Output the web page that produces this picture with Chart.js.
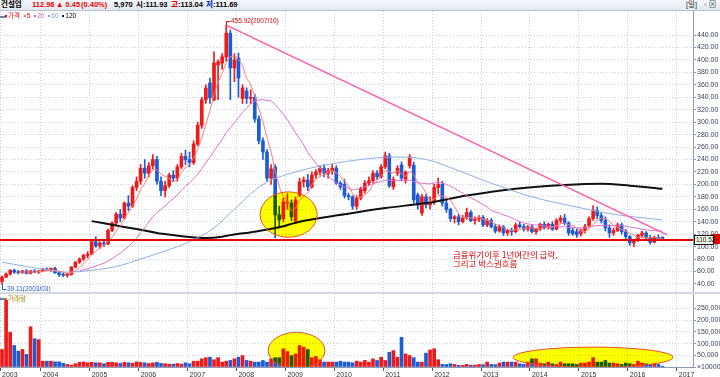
<!DOCTYPE html>
<html>
<head>
<meta charset="utf-8">
<script src="https://cdn.jsdelivr.net/npm/chart.js@4.4.1/dist/chart.umd.min.js"></script>
<style>
  body { margin:0; width:720px; height:377px; overflow:hidden; background:#fff; position:relative;
         font-family:"Liberation Sans","Noto Sans CJK KR",sans-serif; }
  .abs { position:absolute; white-space:nowrap; }
  #hdr { left:0; top:0; width:720px; height:10px; background:linear-gradient(#f6f8fb,#e2e8f0); border-bottom:1px solid #b7c2d2; }
  #hdr span { position:absolute; top:1px; font-size:7.5px; font-weight:bold; line-height:8px; }
  .leg { font-size:6.5px; line-height:7px; }
  .sq { display:inline-block; width:2px; height:2px; margin-right:1px; vertical-align:middle; }
</style>
</head>
<body>
<div id="hdr" class="abs">
  <span style="left:1px;color:#000">건설업</span>
  <span style="left:32px;color:#e00">112.96</span>
  <span style="left:56px;color:#e00">▲ 0.45</span>
  <span style="left:81px;color:#e00">(0.40%)</span>
  <span style="left:114px;color:#000">5,970</span>
  <span style="left:136px;color:#000">시:111.93</span>
  <span style="left:171px;color:#000"><b style="color:#e00">고</b>:113.04</span>
  <span style="left:206px;color:#000"><b style="color:#1040d0">저</b>:111.69</span>
  <span style="left:686px;color:#333;font-weight:normal">[일]</span>
  <span style="left:704px;color:#456;font-weight:normal">▫ ⊠</span>
</div>
<canvas id="priceChart" width="720" height="281" style="position:absolute;left:0;top:11px"></canvas>
<div class="abs" style="left:0;top:292px;width:720px;height:2px;background:#d3dae5"></div>
<canvas id="volChart" width="720" height="83" style="position:absolute;left:0;top:294px"></canvas>

<div class="abs leg" style="left:0;top:12px;color:#6a7fa8">▬</div>
<div class="abs leg" style="left:5px;top:12px">
  <span style="color:#e00"><i class="sq" style="background:#e00"></i>가격</span>
  <span style="color:#e00;margin-left:2px"><i class="sq" style="background:#ff6b6b"></i>5</span>
  <span style="color:#d25cc0;margin-left:2px"><i class="sq" style="background:#d25cc0"></i>20</span>
  <span style="color:#7fa4dd;margin-left:2px"><i class="sq" style="background:#7fa4dd"></i>60</span>
  <span style="color:#000;margin-left:2px"><i class="sq" style="background:#000"></i>120</span>
</div>
<div class="abs leg" style="left:0;top:294px;color:#6a7fa8">▬</div>
<div class="abs leg" style="left:5px;top:295px;color:#a48a1c"><i class="sq" style="background:#a48a1c"></i>거래량</div>

<script>
// monthly candles, 2003/03 .. 2016/09
const startYear = 2003, startMonth = 3, categoryCount = 170;

const opens = [
  44, 51, 56, 62, 59, 58, 61, 57, 61, 59,                       // 2003
  61, 64, 62, 65, 58, 55, 54, 55, 67, 75, 80, 86,               // 2004
  88, 108, 101, 106, 104, 126, 138, 152, 146, 170, 165, 195,    // 2005
  205, 226, 218, 230, 240, 205, 190, 198, 215, 210, 228, 245,   // 2006
  240, 235, 265, 295, 336, 363, 336, 392, 395, 405, 443, 387,   // 2007
  403, 338, 350, 338, 340, 305, 270, 252, 210, 228, 151, 145,   // 2008
  170, 170, 142, 183, 204, 207, 196, 215, 220, 226, 218, 222,   // 2009
  226, 202, 200, 182, 180, 165, 178, 190, 202, 206, 218, 212,   // 2010
  228, 246, 196, 218, 231, 208, 230, 231, 183, 154, 180, 167,   // 2011
  172, 195, 200, 170, 160, 145, 148, 140, 146, 155, 142, 144,   // 2012
  147, 135, 142, 132, 125, 132, 122, 126, 124, 135, 132, 128,   // 2013
  132, 124, 128, 136, 130, 136, 128, 142, 146, 138, 126, 124,   // 2014
  121, 126, 134, 145, 158, 150, 142, 130, 122, 126, 135, 124,   // 2015
  116, 106, 110, 118, 122, 114, 107, 115, 115                   // 2016
];
const highs = [
  53, 58, 63, 64, 62, 62, 63, 62, 63, 62,
  65, 66, 66, 67, 60, 58, 57, 68, 76, 82, 88, 92,
  112, 116, 108, 110, 128, 140, 155, 160, 172, 182, 198, 212,
  232, 240, 235, 248, 245, 212, 205, 218, 222, 232, 250, 255,
  252, 270, 300, 340, 360, 371, 413, 400, 410, 455.92, 448, 410,
  411, 360, 355, 352, 345, 310, 275, 256, 232, 232, 165, 178,
  185, 175, 180, 210, 212, 216, 220, 224, 230, 232, 226, 232,
  230, 205, 208, 186, 182, 182, 196, 206, 212, 222, 222, 232,
  252, 250, 212, 230, 236, 222, 248, 236, 186, 184, 184, 180,
  200, 210, 205, 175, 162, 150, 152, 150, 162, 158, 148, 150,
  150, 145, 145, 136, 135, 134, 128, 130, 138, 140, 136, 134,
  135, 130, 138, 140, 138, 140, 145, 150, 152, 140, 130, 128,
  128, 136, 148, 166, 164, 155, 148, 135, 130, 138, 138, 128,
  118, 112, 120, 125, 124, 118, 117, 119, 116
];
const lows = [
  39.11, 50, 54, 57, 56, 57, 56, 56, 58, 57,
  60, 61, 60, 57, 52, 52, 51, 54, 66, 73, 78, 82,
  87, 99, 97, 100, 103, 124, 135, 140, 144, 158, 163, 190,
  200, 210, 212, 225, 200, 182, 180, 195, 205, 205, 225, 232,
  228, 232, 262, 290, 330, 330, 334, 336, 385, 398, 336, 365,
  340, 330, 330, 330, 300, 265, 240, 205, 200, 114, 130, 140,
  160, 142, 138, 180, 196, 190, 194, 210, 215, 212, 210, 216,
  200, 192, 178, 175, 160, 160, 175, 186, 198, 202, 208, 210,
  225, 195, 192, 214, 206, 202, 226, 170, 160, 150, 162, 160,
  168, 185, 165, 155, 140, 138, 135, 138, 144, 140, 136, 140,
  132, 132, 130, 122, 123, 118, 118, 118, 122, 130, 125, 125,
  122, 120, 126, 128, 128, 126, 127, 138, 135, 118, 118, 115,
  117, 122, 132, 142, 145, 138, 125, 115, 118, 124, 120, 112,
  102, 100, 108, 115, 110, 104, 106, 110, 110
];
const closes = [
  51, 56, 62, 59, 58, 61, 57, 61, 59, 61,
  64, 62, 65, 58, 55, 54, 55, 67, 75, 80, 86, 88,
  108, 101, 106, 104, 126, 138, 152, 146, 170, 165, 195, 205,
  226, 218, 230, 240, 205, 190, 198, 215, 210, 228, 245, 240,
  235, 265, 295, 336, 355, 339, 395, 397, 405, 443, 387, 400,
  371, 355, 338, 340, 305, 270, 252, 210, 225, 151, 143, 172,
  172, 148, 175, 204, 207, 196, 215, 220, 226, 218, 222, 226,
  202, 196, 182, 180, 165, 178, 192, 202, 206, 218, 212, 228,
  246, 198, 208, 226, 210, 220, 244, 175, 167, 180, 167, 172,
  195, 200, 170, 160, 145, 148, 140, 146, 155, 142, 144, 147,
  135, 142, 132, 125, 132, 122, 126, 124, 135, 132, 128, 132,
  124, 128, 136, 130, 136, 128, 142, 146, 138, 122, 121, 119,
  126, 132, 145, 158, 150, 142, 130, 122, 126, 135, 124, 116,
  106, 110, 118, 122, 114, 107, 115, 113, 112.96
];
const volumes = [
  75000, 285000, 148000, 92000, 68000, 75000, 54000, 172000, 121000, 117000,
  25000, 25000, 25000, 22000, 22000, 16000, 11000, 8000, 14000, 20000, 22000, 18000,
  20000, 18000, 18000, 14000, 20000, 20000, 18000, 15000, 20000, 18000, 16000, 22000,
  20000, 18000, 15000, 18000, 20000, 15000, 14000, 12000, 12000, 15000, 12000, 18000,
  14000, 25000, 25000, 35000, 40000, 42000, 31000, 40000, 21000, 25000, 28000, 35000,
  42000, 49000, 28000, 25000, 21000, 21000, 28000, 21000, 35000, 40000, 40000, 78000,
  66000, 49000, 56000, 92000, 85000, 75000, 40000, 45000, 31000, 21000, 21000, 21000,
  21000, 25000, 21000, 21000, 18000, 25000, 21000, 28000, 21000, 35000, 28000, 42000,
  28000, 63000, 70000, 42000, 127000, 56000, 49000, 40000, 21000, 21000, 59000, 73000,
  78000, 31000, 11000, 11000, 14000, 11000, 7000, 7000, 11000, 8000, 8000, 11000,
  10000, 21000, 11000, 10000, 17000, 21000, 21000, 21000, 21000, 14000, 11000, 21000,
  35000, 35000, 17000, 14000, 21000, 14000, 11000, 21000, 14000, 14000, 14000, 11000,
  17000, 17000, 21000, 40000, 21000, 21000, 28000, 17000, 17000, 14000, 11000, 17000,
  14000, 11000, 25000, 17000, 14000, 11000, 14000, 11000, 4000
];

// long averages (they reach back before 2003)
const ma60Points = [
  ['2003/03', 75], ['2003/09', 68], ['2004/03', 62], ['2004/07', 59], ['2005/01', 62],
  ['2005/07', 68], ['2006/01', 80], ['2006/07', 93], ['2007/01', 108], ['2007/07', 130],
  ['2007/11', 154], ['2008/07', 200], ['2009/03', 220], ['2009/11', 232], ['2010/07', 240],
  ['2011/03', 244], ['2011/11', 240], ['2012/07', 222], ['2013/03', 202], ['2014/01', 180],
  ['2014/11', 165], ['2015/09', 152], ['2016/09', 143]
];
const ma120Points = [
  ['2005/01', 141], ['2005/07', 134], ['2006/01', 127], ['2006/05', 122], ['2006/09', 118.5],
  ['2007/01', 115.5], ['2007/05', 114], ['2007/09', 116], ['2007/11', 118.5], ['2008/05', 124],
  ['2008/11', 131], ['2009/04', 140], ['2010/03', 152], ['2011/01', 162], ['2011/11', 170],
  ['2012/09', 182], ['2013/09', 193], ['2014/09', 199], ['2015/06', 201], ['2016/01', 198],
  ['2016/09', 193]
];

const priceTicks = [40, 60, 80, 100, 120, 140, 160, 180, 200, 220, 240, 260, 280, 300, 320, 340, 360, 380, 400, 420, 440];
const volumeTicks = [0, 50000, 100000, 150000, 200000, 250000];

const levelLine = 110.52;
const trendFrom = ['2007/10', 455.92];
const trendTo = [163.2, 119];
const peakMark = ['2007/10', 455.92, '455.92(2007/10)'];
const lowMark = ['2003/03', 39.11, '39.11(2003/03)'];
const noteLines = ['금융위기이후 1년여간의 급락,', '그리고 박스권흐름'];
const noteAt = [110.6, 93];

// ellipses in index / value units
const priceEllipse = { from: 63.3, to: 77.3, low: 115, high: 188 };
const volumeEllipses = [
  { from: 65.3, to: 79.2, low: -7000, high: 148000 },
  { from: 125.4, to: 164.6, low: -2000, high: 85000 }
];

// --- build labels
const months = [];
for (let k = 0; k < categoryCount; k++) {
  const m = startMonth - 1 + k;
  const yr = startYear + Math.floor(m / 12);
  months.push(yr + '/' + String((m % 12) + 1).padStart(2, '0'));
}
const isYearTick = (i) => i === 0 || (months[i] && months[i].endsWith('/01'));

function movingAverage(values, n) {
  return values.map((v, i) => {
    if (i < n - 1) return null;
    let s = 0;
    for (let j = i - n + 1; j <= i; j++) s += values[j];
    return s / n;
  });
}

const upColor = '#ee1a1a';
const downColor = '#1b5cd6';
const candleColors = closes.map((c, i) => (c >= opens[i] ? upColor : downColor));

Chart.defaults.font.family = '"Liberation Sans","Noto Sans CJK KR",sans-serif';
Chart.defaults.animation = false;

function drawEllipse(ctx, xs, ys, e) {
  const x0 = xs.getPixelForValue(e.from), x1 = xs.getPixelForValue(e.to);
  const y0 = ys.getPixelForValue(e.high), y1 = ys.getPixelForValue(e.low);
  ctx.save();
  ctx.beginPath();
  ctx.ellipse((x0 + x1) / 2, (y0 + y1) / 2, (x1 - x0) / 2, (y1 - y0) / 2, 0, 0, Math.PI * 2);
  ctx.globalCompositeOperation = 'multiply';
  ctx.fillStyle = '#ffff00';
  ctx.fill();
  ctx.globalCompositeOperation = 'source-over';
  ctx.strokeStyle = '#e4502c';
  ctx.lineWidth = 1;
  ctx.stroke();
  ctx.restore();
}

const priceOverlay = {
  id: 'priceOverlay',
  afterDatasetsDraw(chart) {
    const { ctx, chartArea: a, scales: { x, y } } = chart;
    ctx.save();
    ctx.beginPath();
    ctx.rect(a.left, a.top, a.right - a.left, a.bottom - a.top);
    ctx.clip();

    // trend line from the 2007 top
    ctx.strokeStyle = '#ff5aa6';
    ctx.lineWidth = 1.5;
    ctx.beginPath();
    ctx.moveTo(x.getPixelForValue(trendFrom[0]), y.getPixelForValue(trendFrom[1]));
    ctx.lineTo(x.getPixelForValue(trendTo[0]), y.getPixelForValue(trendTo[1]));
    ctx.stroke();

    drawEllipse(ctx, x, y, priceEllipse);

    // horizontal level
    const ly = y.getPixelForValue(levelLine);
    ctx.strokeStyle = '#e60000';
    ctx.lineWidth = 2;
    ctx.beginPath();
    ctx.moveTo(a.left, ly);
    ctx.lineTo(a.right, ly);
    ctx.stroke();

    // peak / low marks
    ctx.lineWidth = 1;
    ctx.font = '6.5px "Liberation Sans"';
    ctx.textBaseline = 'middle';
    ctx.textAlign = 'left';
    let px = Math.round(x.getPixelForValue(peakMark[0])) + 0.5, py = y.getPixelForValue(peakMark[1]);
    ctx.strokeStyle = ctx.fillStyle = '#e00000';
    ctx.beginPath();
    ctx.moveTo(px, py);
    ctx.lineTo(px, py - 3.5);
    ctx.lineTo(px + 4, py - 3.5);
    ctx.stroke();
    ctx.fillText(peakMark[2], px + 4.5, py - 3.5);

    px = Math.round(x.getPixelForValue(lowMark[0])) + 0.5;
    py = y.getPixelForValue(lowMark[1]);
    ctx.strokeStyle = ctx.fillStyle = '#2a5bc8';
    ctx.beginPath();
    ctx.moveTo(px, py);
    ctx.lineTo(px, py + 5);
    ctx.lineTo(px + 4, py + 5);
    ctx.stroke();
    ctx.fillText(lowMark[2], px + 4.5, py + 5);

    // comment
    ctx.fillStyle = '#e00000';
    ctx.font = '8.5px "Noto Sans CJK KR"';
    ctx.textBaseline = 'top';
    const nx = x.getPixelForValue(noteAt[0]), ny = y.getPixelForValue(noteAt[1]);
    noteLines.forEach((t, k) => ctx.fillText(t, nx, ny + k * 8.5));
    ctx.restore();
  },
  afterDraw(chart) {
    const { ctx, chartArea: a, scales: { y } } = chart;
    const ly = Math.round(y.getPixelForValue(levelLine));
    ctx.save();
    ctx.fillStyle = '#e60000';
    ctx.fillRect(a.right + 18, ly - 6, 9, 10);
    ctx.fillStyle = '#f4fbe8';
    ctx.fillRect(a.right + 1, ly - 5, 19, 10);
    ctx.strokeStyle = '#111';
    ctx.lineWidth = 1;
    ctx.strokeRect(a.right + 1.5, ly - 4.5, 19, 9);
    ctx.fillStyle = '#111';
    ctx.font = '6.5px "Liberation Sans"';
    ctx.textBaseline = 'middle';
    ctx.textAlign = 'left';
    ctx.fillText(levelLine.toFixed(2), a.right + 3, ly + 0.5);
    ctx.restore();
  }
};

const volumeOverlay = {
  id: 'volumeOverlay',
  afterDatasetsDraw(chart) {
    const { ctx, chartArea: a, scales: { x, y } } = chart;
    ctx.save();
    ctx.beginPath();
    ctx.rect(a.left, a.top, a.right - a.left, a.bottom - a.top);
    ctx.clip();
    volumeEllipses.forEach((e) => drawEllipse(ctx, x, y, e));
    ctx.restore();
  }
};

const gridColor = '#c9d0dc';
const axisLine = '#8d9bb2';
const zeroPad = (s) => { s.paddingLeft = 0; s.paddingRight = 0; s.paddingTop = 0; s.paddingBottom = 0; };

// price panel
new Chart(document.getElementById('priceChart'), {
  type: 'bar',
  data: {
    labels: months,
    datasets: [
      { type: 'bar', data: lows.map((l, i) => [l, highs[i]]), backgroundColor: candleColors,
        barThickness: 1, grouped: false, order: 6 },
      { type: 'bar', data: opens.map((o, i) => [o, closes[i]]), backgroundColor: candleColors,
        barThickness: 3, minBarLength: 1, grouped: false, order: 5 },
      { type: 'line', data: movingAverage(closes, 5), borderColor: '#ff7b7b', borderWidth: 1,
        pointRadius: 0, order: 1 },
      { type: 'line', data: movingAverage(closes, 20), borderColor: '#dd6fcf', borderWidth: 1,
        pointRadius: 0, order: 2 },
      { type: 'line', data: ma60Points.map(([m, v]) => ({ x: m, y: v })), borderColor: '#8bb0e6',
        borderWidth: 1, pointRadius: 0, cubicInterpolationMode: 'monotone', order: 3 },
      { type: 'line', data: ma120Points.map(([m, v]) => ({ x: m, y: v })), borderColor: '#111',
        borderWidth: 2, pointRadius: 0, cubicInterpolationMode: 'monotone', order: 4 }
    ]
  },
  options: {
    responsive: false,
    layout: { padding: 0 },
    plugins: { legend: { display: false }, tooltip: { enabled: false } },
    scales: {
      x: {
        offset: true,
        ticks: { display: false, autoSkip: false, callback: (v, i) => (isYearTick(i) ? months[i] : '') },
        grid: { offset: true, drawTicks: false, color: (c) => (isYearTick(c.index) ? gridColor : 'rgba(0,0,0,0)') },
        border: { display: false, dash: [1, 2] },
        afterFit: (s) => { s.height = 0; zeroPad(s); }
      },
      y: {
        position: 'right',
        min: 27.1,
        max: 478.6,
        afterBuildTicks: (s) => { s.ticks = priceTicks.map((v) => ({ value: v })); },
        afterFit: (s) => { s.width = 27; zeroPad(s); },
        ticks: { font: { size: 7 }, color: '#3a4260', padding: 1, callback: (v) => v.toFixed(2) },
        grid: { color: gridColor, tickLength: 3, tickColor: axisLine },
        border: { color: axisLine, dash: [1, 2] }
      }
    }
  },
  plugins: [priceOverlay]
});

// volume panel
new Chart(document.getElementById('volChart'), {
  type: 'bar',
  data: {
    labels: months,
    datasets: [{ data: volumes, backgroundColor: candleColors, barThickness: 3 }]
  },
  options: {
    responsive: false,
    layout: { padding: 0 },
    plugins: { legend: { display: false }, tooltip: { enabled: false } },
    scales: {
      x: {
        offset: true,
        ticks: { autoSkip: false, maxRotation: 0, minRotation: 0, align: 'start', padding: 0,
                 font: { size: 7 }, color: '#333',
                 callback: (v, i) => (isYearTick(i) ? months[i].slice(0, 4) : '') },
        grid: { offset: true, tickLength: 4,
                color: (c) => (isYearTick(c.index) ? gridColor : 'rgba(0,0,0,0)'),
                tickColor: (c) => (isYearTick(c.index) ? '#555' : 'rgba(0,0,0,0)') },
        border: { color: axisLine, dash: [1, 2] },
        afterFit: (s) => { s.height = 10; zeroPad(s); }
      },
      y: {
        position: 'right',
        min: 0,
        max: 312000,
        afterBuildTicks: (s) => { s.ticks = volumeTicks.map((v) => ({ value: v })); },
        afterFit: (s) => { s.width = 27; zeroPad(s); },
        ticks: { font: { size: 7 }, color: '#3a4260', padding: 1,
                 callback: (v) => (v === 0 ? '×10000' : v.toLocaleString('en-US')) },
        grid: { color: gridColor, tickLength: 3, tickColor: axisLine },
        border: { color: axisLine, dash: [1, 2] }
      }
    }
  },
  plugins: [volumeOverlay]
});
</script>
</body>
</html>
